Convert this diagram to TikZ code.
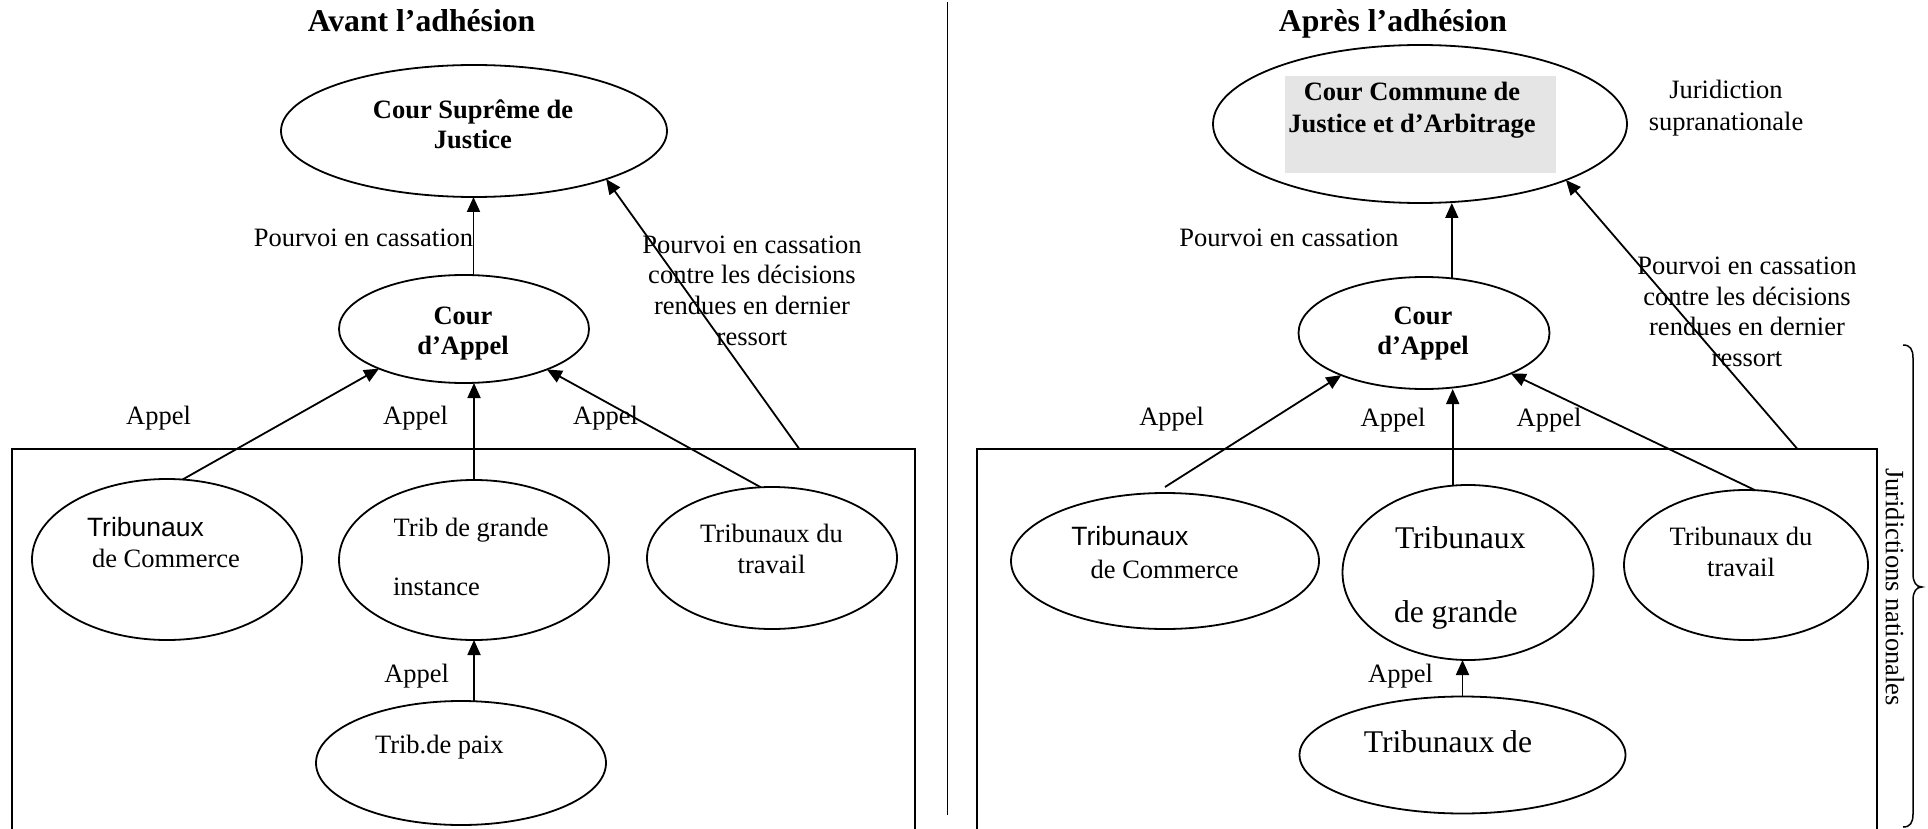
\documentclass[tikz,border=0pt]{standalone}
\usepackage{fontspec}
\setmainfont{Liberation Serif}
\newfontfamily\arialf{Liberation Sans}
\usetikzlibrary{shapes.geometric,arrows.meta,calc}
\begin{document}
\begin{tikzpicture}[x=1pt,y=-1pt,
  txt/.style={font=\fontsize{26.5}{30.5}\selectfont, inner sep=0pt, outer sep=0pt},
  btxt/.style={font=\bfseries\fontsize{26.5}{30}\selectfont, inner sep=0pt, outer sep=0pt, align=center},
  bigtxt/.style={font=\fontsize{31.6}{36}\selectfont, inner sep=0pt, outer sep=0pt},
  ttl/.style={font=\bfseries\fontsize{31.7}{36}\selectfont, inner sep=0pt, outer sep=0pt},
  sanstxt/.style={font=\arialf\fontsize{26.5}{30.5}\selectfont, inner sep=0pt, outer sep=0pt},
  court/.style={draw, ellipse, line width=1.8pt, inner sep=0pt, outer sep=0pt},
  arr/.style={line width=1.8pt, -{Triangle[length=15pt,width=13pt]}},
  boxline/.style={line width=2pt},
]
\useasboundingbox (0,0) rectangle (1928,829);

% ---------- frames ----------
\draw[boxline] (12,829) -- (12,448.5) -- (915,448.5) -- (915,829);
\draw[boxline] (977,829) -- (977,448.5) -- (1877,448.5) -- (1877,829);
\draw[line width=1.3pt] (947.5,2) -- (947.5,815);

% ---------- titles ----------
\node[ttl, anchor=base] (titL) at (421.6,32) {Avant l’adhésion};
\node[ttl, anchor=base] (titR) at (1393,32) {Après l’adhésion};

% ---------- left courts ----------
\node[court, minimum width=386pt, minimum height=132pt] (csj) at (474,131) {};
\node[court, minimum width=250pt, minimum height=108pt] (appL) at (464,329) {};
\node[court, minimum width=270pt, minimum height=161pt] (comL) at (167,559.5) {};
\node[court, minimum width=270pt, minimum height=160pt] (grdL) at (474,560) {};
\node[court, minimum width=250pt, minimum height=142pt] (trvL) at (772,558) {};
\node[court, minimum width=290pt, minimum height=124pt] (pxL) at (461,763) {};

\node[btxt] (csjT) at (473,124) {Cour Suprême de\\Justice};
\node[btxt] (appLT) at (463,334) {Cour\\d’Appel};
\node[sanstxt, anchor=base west] (comLT1) at (87,536) {Tribunaux};
\node[txt, anchor=base west] (comLT2) at (92,567) {de Commerce};
\node[txt, anchor=base west] (grdLT1) at (393.7,536.3) {Trib de grande};
\node[txt, anchor=base west] (grdLT2) at (393,595.7) {instance};
\node[txt, align=center] (trvLT) at (771.5,548.7) {Tribunaux du\\travail};
\node[txt, anchor=base west] (pxLT) at (375,753) {Trib.de paix};

% ---------- left connectors ----------
\draw[arr] (appL.80.5) -- (appL.80.5 |- csj.south);
\draw[arr] (comL.79) -- (appL.205);
\draw[arr] (grdL.north) -- (grdL.north |- appL.south);
\draw[arr] (trvL.99) -- (appL.-26);
\draw[arr] (grdL.south |- pxL.north) -- (grdL.south);
\coordinate (bxL) at (799,448.5);
\draw[arr] (bxL) -- (csj.-20);

% ---------- left labels ----------
\node[txt, anchor=base] (pcL) at (363.5,247) {Pourvoi en cassation};
\node[txt, align=center, font=\fontsize{26.5}{30.7}\selectfont] (pcdL) at (752,290.5) {Pourvoi en cassation\\contre les décisions\\rendues en dernier\\ressort};
\node[txt, anchor=base] (apL1) at (158.6,424.6) {Appel};
\node[txt, anchor=base] (apL2) at (415.5,424) {Appel};
\node[txt, anchor=base] (apL3) at (605.5,424) {Appel};
\node[txt, anchor=base] (apL4) at (416.7,682.3) {Appel};

% ---------- right courts ----------
\node[court, minimum width=414pt, minimum height=158pt] (ccja) at (1420,124) {};
\node[fill=gray!20, minimum width=271pt, minimum height=97pt, inner sep=0pt] (ccjabg) at (1420.5,124.5) {};
\node[court, minimum width=251pt, minimum height=112pt] (appR) at (1424,333) {};
\node[court, minimum width=308pt, minimum height=136pt] (comR) at (1165,561) {};
\node[court, minimum width=251pt, minimum height=175pt] (grdR) at (1468,572.5) {};
\node[court, minimum width=244pt, minimum height=150pt] (trvR) at (1746,565) {};
\node[court, minimum width=326pt, minimum height=117pt] (tdR) at (1462.5,755) {};

\node[btxt, font=\bfseries\fontsize{26.5}{32}\selectfont] (ccjaT) at (1412,110.5) {Cour Commune de\\Justice et d’Arbitrage};
\node[txt, align=center, font=\fontsize{26.5}{32}\selectfont] (supra) at (1726,108) {Juridiction\\supranationale};
\node[btxt] (appRT) at (1423,334) {Cour\\d’Appel};
\node[sanstxt, anchor=base west] (comRT1) at (1071.4,545.7) {Tribunaux};
\node[txt, anchor=base west] (comRT2) at (1090.6,578) {de Commerce};
\node[bigtxt, anchor=base west] (grdRT1) at (1395,548.8) {Tribunaux};
\node[bigtxt, anchor=base west] (grdRT2) at (1394,622.8) {de grande};
\node[txt, align=center, font=\fontsize{26.5}{31}\selectfont] (trvRT) at (1741,551.5) {Tribunaux du\\travail};
\node[bigtxt, anchor=base west] (tdRT) at (1363.8,752.2) {Tribunaux de};

% ---------- right connectors ----------
\draw[arr] (appR.63) -- (appR.63 |- ccja.south);
\draw[arr] ($(comR.north)+(0,-6)$) -- (appR.207);
\draw[arr] (grdR.100) -- (grdR.100 |- appR.south);
\draw[arr] (trvR.83) -- (appR.-25);
\draw[arr] (tdR.north) -- (tdR.north |- grdR.south);
\coordinate (bxR) at (1797,448.5);
\draw[arr] (bxR) -- (ccja.-21);

% ---------- right labels ----------
\node[txt, anchor=base] (pcR) at (1289,247) {Pourvoi en cassation};
\node[txt, align=center, font=\fontsize{26.5}{30.5}\selectfont] (pcdR) at (1747,312) {Pourvoi en cassation\\contre les décisions\\rendues en dernier\\ressort};
\node[txt, anchor=base] (apR1) at (1171.7,425.7) {Appel};
\node[txt, anchor=base] (apR2) at (1393,426) {Appel};
\node[txt, anchor=base] (apR3) at (1549,426) {Appel};
\node[txt, anchor=base] (apR4) at (1400.5,682.3) {Appel};

% ---------- brace ----------
\draw[line width=1.5pt] (1903,345) .. controls (1910,345) and (1913,349) .. (1913,358)
  -- (1913,574) .. controls (1913,582) and (1916,587) .. (1922,587)
  .. controls (1916,587) and (1913,592) .. (1913,600)
  -- (1913,814) .. controls (1913,823) and (1910,827) .. (1903,827);
\node[txt, rotate=-90] (jn) at (1895,587) {Juridictions nationales};
\end{tikzpicture}
\end{document}
